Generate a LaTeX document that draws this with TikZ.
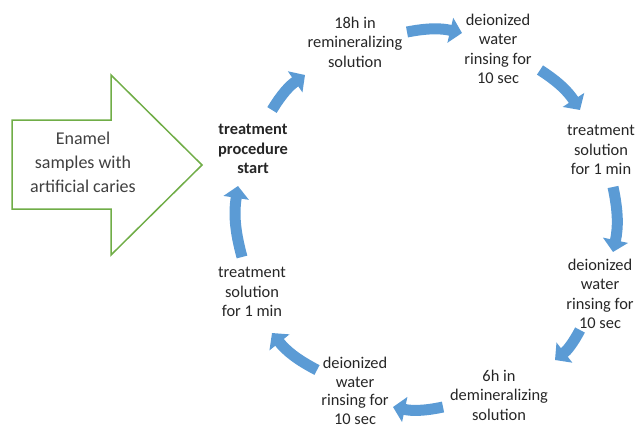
\documentclass[tikz,border=0pt]{standalone}
\usepackage{fontspec}
\setmainfont{Carlito}
\usetikzlibrary{arrows.meta,calc}
\definecolor{flowblue}{HTML}{5B9BD5}
\definecolor{samplegreen}{HTML}{70AD47}
\tikzset{
  stepnode/.style={align=center, inner sep=1pt, text=black!85,
    font=\fontsize{16.4}{19.5}\selectfont},
  flow/.style={draw=flowblue, line width=11pt,
    -{Triangle[width=25pt,length=12pt]}}
}

\begin{document}
\begin{tikzpicture}[x=1pt,y=-1pt]
   \useasboundingbox (0,0) rectangle (639,428);
   % big input arrow
   \draw[samplegreen, line width=1.5pt, fill=white] (12,120) -- (111,120) -- (111,75)
      -- (202,165) -- (111,255) -- (111,209) -- (12,209) -- cycle;
   \node[stepnode, text=black!75, font=\fontsize{18}{24}\selectfont] (samples) at (83,162)
      {Enamel\\samples with\\artificial caries};
   % the cycle
   \node[stepnode, font=\fontsize{16.4}{19.5}\bfseries] (start) at (253,149) {treatment\\procedure\\start};
   \node[stepnode] (remin) at (355,42) {18h in\\remineralizing\\solution};
   \node[stepnode] (rinsetop) at (498,49) {deionized\\water\\rinsing for\\10 sec};
   \node[stepnode] (treatright) at (601,150) {treatment\\solution\\for 1 min};
   \node[stepnode] (rinseright) at (600,294) {deionized\\water\\rinsing for\\10 sec};
   \node[stepnode] (demin) at (499,395) {6h in\\demineralizing\\solution};
   \node[stepnode, font=\fontsize{16.4}{18.5}\selectfont] (rinsebot) at (355,391) {deionized\\water\\rinsing for\\10 sec};
   \node[stepnode] (treatleft) at (252,292) {treatment\\solution\\for 1 min};
   % curved arrows
   \draw[flow] ($(start)+(19,-39)$) to[bend left=12] ($(remin)+(-50,33)$);
   \draw[flow] ($(remin)+(52,-10)$) to[bend left=12] ($(rinsetop)+(-36,-16)$);
   \draw[flow] ($(rinsetop)+(42,21)$) to[bend left=12] ($(treatright)+(-21,-40)$);
   \draw[flow] ($(treatright)+(12,37)$) to[bend left=12] ($(rinseright)+(13,-42)$);
   \draw[flow] ($(rinseright)+(-20,36)$) to[bend left=12] ($(demin)+(56,-35)$);
   \draw[flow] ($(demin)+(-56,12)$) to[bend left=12] ($(rinsebot)+(38,16)$);
   \draw[flow] ($(rinsebot)+(-38,-21)$) to[bend left=12] ($(treatleft)+(20,41)$);
   \draw[flow] ($(treatleft)+(-10,-35)$) to[bend left=12] ($(start)+(-15,37)$);
\end{tikzpicture}
\end{document}
